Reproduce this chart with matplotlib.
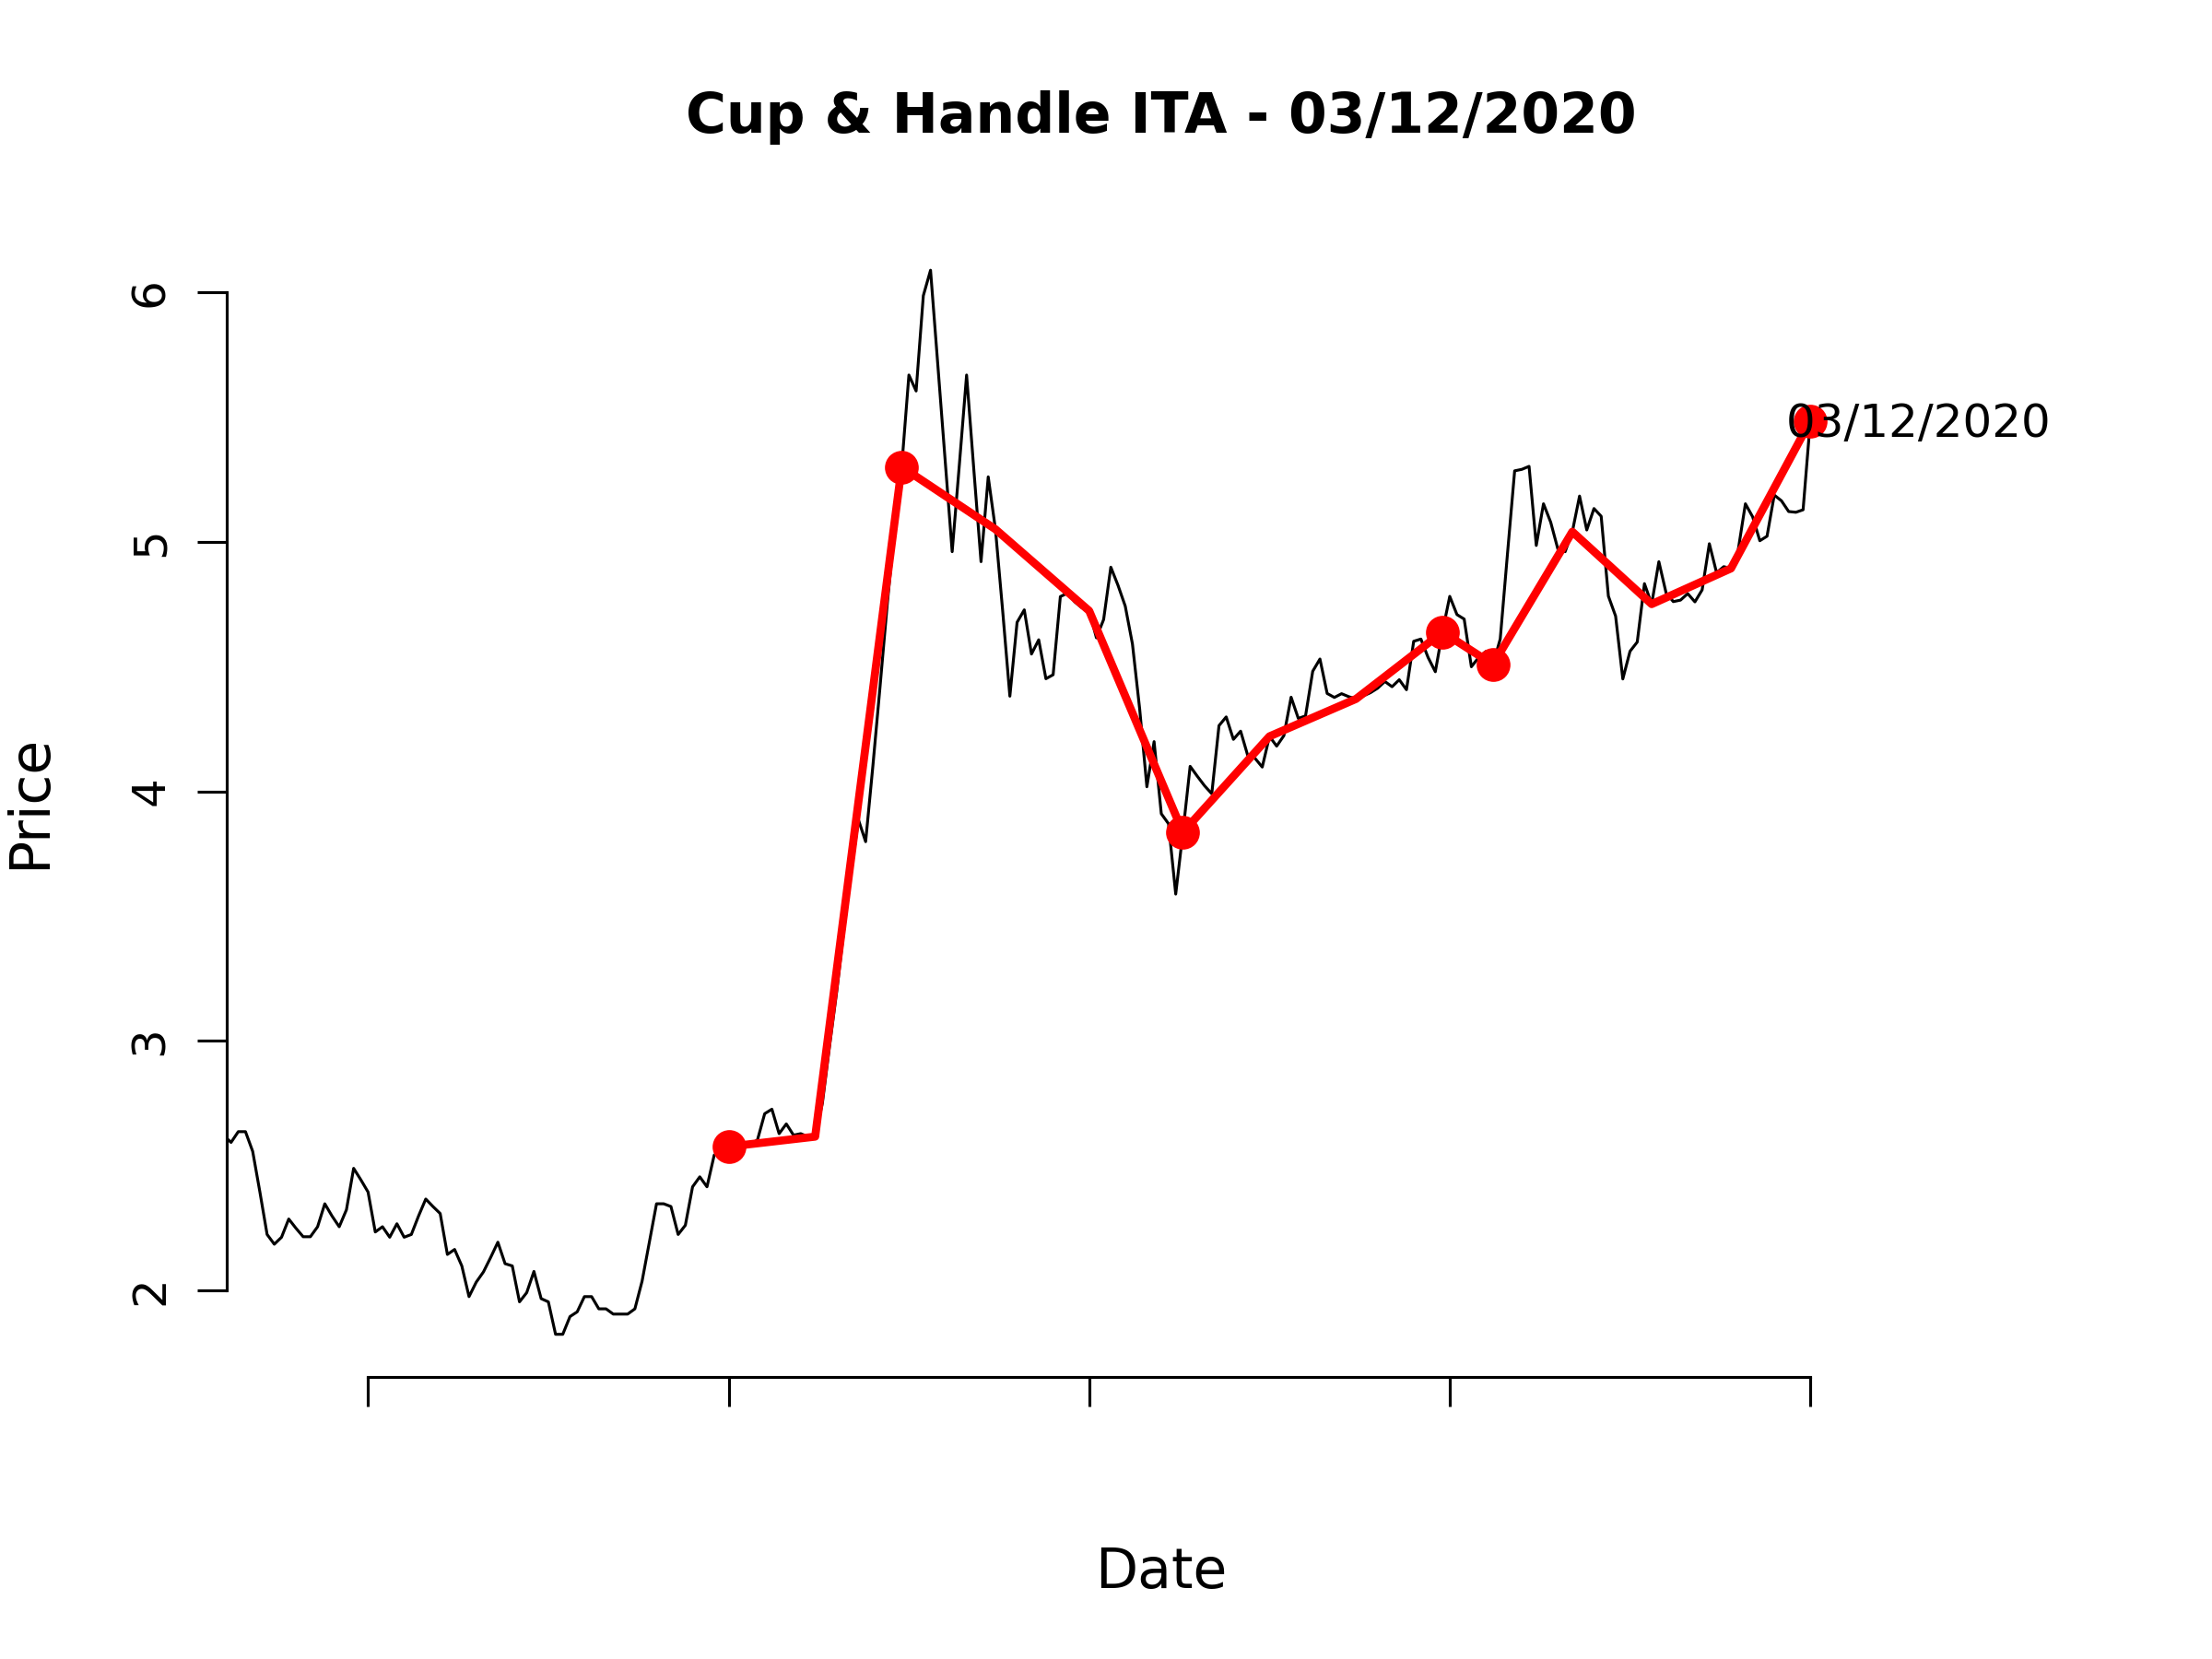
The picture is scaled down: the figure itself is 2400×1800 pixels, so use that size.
import numpy as np
import matplotlib
matplotlib.use("Agg")
import matplotlib.pyplot as plt

# daily closes (index = trading day)
price = [2.62, 2.593, 2.636, 2.636, 2.557, 2.394, 2.224, 2.185, 2.213, 2.286,
         2.249, 2.215, 2.215, 2.255, 2.347, 2.298, 2.255, 2.323, 2.489, 2.443,
         2.394, 2.234, 2.255, 2.213, 2.267, 2.213, 2.224, 2.298, 2.366, 2.336,
         2.308, 2.144, 2.164, 2.098, 1.975, 2.033, 2.074, 2.132, 2.193, 2.107,
         2.098, 1.954, 1.991, 2.076, 1.967, 1.954, 1.824, 1.824, 1.895, 1.914,
         1.975, 1.975, 1.926, 1.926, 1.905, 1.905, 1.905, 1.926, 2.037, 2.191,
         2.347, 2.347, 2.336, 2.224, 2.261, 2.415, 2.455, 2.415, 2.542, 2.56,
         2.576, 2.57, 2.572, 2.585, 2.603, 2.708, 2.726, 2.628, 2.667, 2.622,
         2.628, 2.616, 2.616, 2.75, 2.98, 3.2, 3.45, 3.68, 3.886, 3.798,
         4.10, 4.42, 4.75, 5.05, 5.30, 5.668, 5.604, 5.986, 6.088, 5.712,
         5.335, 4.96, 5.31, 5.668, 5.29, 4.92, 5.26, 5.05, 4.724, 4.381,
         4.677, 4.727, 4.55, 4.607, 4.451, 4.467, 4.78, 4.794, 4.759, 4.735,
         4.723, 4.615, 4.688, 4.898, 4.825, 4.742, 4.59, 4.33, 4.018, 4.199,
         3.91, 3.87, 3.588, 3.836, 4.10, 4.06, 4.022, 3.99, 4.263, 4.298,
         4.208, 4.241, 4.142, 4.132, 4.097, 4.22, 4.181, 4.223, 4.377, 4.292,
         4.302, 4.481, 4.530, 4.392, 4.376, 4.391, 4.379, 4.370, 4.382, 4.395,
         4.413, 4.440, 4.419, 4.447, 4.407, 4.601, 4.610, 4.536, 4.479, 4.641,
         4.781, 4.708, 4.690, 4.499, 4.536, 4.56, 4.508, 4.61, 4.95, 5.284,
         5.29, 5.302, 4.985, 5.152, 5.078, 4.97, 4.96, 5.04, 5.183, 5.047,
         5.133, 5.102, 4.782, 4.702, 4.45, 4.561, 4.598, 4.832, 4.75, 4.92,
         4.795, 4.76, 4.766, 4.792, 4.759, 4.807, 4.992, 4.876, 4.90, 4.893,
         4.967, 5.152, 5.10, 5.004, 5.022, 5.187, 5.164, 5.121, 5.118, 5.128,
         5.484]

# pivot points of the pattern (red line) and the ones marked with dots
pivot_idx = [70, 82, 94, 107, 120, 133, 145, 157, 169, 176, 187, 198, 209, 220]
pivot_price = [2.576, 2.616, 5.30, 5.05, 4.723, 3.836, 4.22, 4.37, 4.638,
               4.508, 5.04, 4.75, 4.893, 5.484]
marker_idx = [70, 94, 133, 169, 176, 220]

tick_idx = [20, 70, 120, 170, 220]
y_ticks = [2, 3, 4, 5, 6]
title = "Cup & Handle ITA - 03/12/2020"
last_date = "03/12/2020"

x = np.arange(len(price))
marker_price = [pivot_price[pivot_idx.index(i)] for i in marker_idx]

fig = plt.figure(figsize=(8, 6), dpi=300)
ax = fig.add_axes([0.1025, 0.17, 0.845, 0.6933])

ax.plot(x, price, color="black", lw=0.75)
ax.plot(pivot_idx, pivot_price, color="red", lw=2.1, solid_joinstyle="round")
ax.plot(marker_idx, marker_price, "o", color="red", ms=8.8, mec="none")
ax.annotate(last_date, xy=(pivot_idx[-1] + 15, pivot_price[-1]),
            xytext=(0, -0.8), textcoords="offset points",
            ha="center", va="center", fontsize=12)

ax.set_xlim(0.4, 259.6)
ax.set_ylim(1.653, 6.262)

for s in ["top", "right"]:
    ax.spines[s].set_visible(False)
ax.spines["left"].set_bounds(y_ticks[0], y_ticks[-1])
ax.spines["bottom"].set_bounds(tick_idx[0], tick_idx[-1])
ax.spines["left"].set_linewidth(0.75)
ax.spines["bottom"].set_linewidth(0.75)

ax.set_yticks(y_ticks)
ax.set_yticklabels([str(v) for v in y_ticks], rotation=90, va="center")
ax.set_xticks(tick_idx)
ax.set_xticklabels([""] * len(tick_idx))
ax.tick_params(direction="out", length=7.6, width=0.75, labelsize=12, pad=6.5)

ax.text(0.5, 1.0954, title, transform=ax.transAxes, ha="center", va="center",
        fontsize=14.4, fontweight="bold")
ax.set_xlabel("Date", fontsize=14.4, va="center")
ax.xaxis.set_label_coords(0.5, -0.1704)
ax.set_ylabel("Price", fontsize=14.4, va="center")
ax.yaxis.set_label_coords(-0.1053, 0.5)

fig.savefig("out.png", dpi=300)
